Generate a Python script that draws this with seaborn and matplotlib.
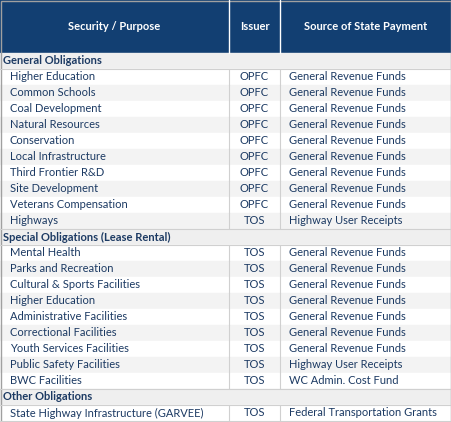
import matplotlib
matplotlib.use("Agg")
import matplotlib.pyplot as plt
import seaborn as sns
from matplotlib.patches import Rectangle

sns.set_style("white")
plt.rcParams['font.family'] = ['Lato', 'DejaVu Sans']

headers = ["Security / Purpose", "Issuer", "Source of State Payment"]
sections = ["General Obligations", "Special Obligations (Lease Rental)", "Other Obligations"]
purposes = [
    ["Higher Education", "Common Schools", "Coal Development", "Natural Resources", "Conservation",
     "Local Infrastructure", "Third Frontier R&D", "Site Development", "Veterans Compensation", "Highways"],
    ["Mental Health", "Parks and Recreation", "Cultural & Sports Facilities", "Higher Education",
     "Administrative Facilities", "Correctional Facilities", "Youth Services Facilities",
     "Public Safety Facilities", "BWC Facilities"],
    ["State Highway Infrastructure (GARVEE)"],
]
issuers = [
    ["OPFC"] * 9 + ["TOS"],
    ["TOS"] * 9,
    ["TOS"],
]
sources = [
    ["General Revenue Funds"] * 9 + ["Highway User Receipts"],
    ["General Revenue Funds"] * 7 + ["Highway User Receipts", "WC Admin. Cost Fund"],
    ["Federal Transportation Grants"],
]

W, H = 452, 422
fig = plt.figure(figsize=(W / 100, H / 100), dpi=100)
ax = fig.add_axes([0, 0, 1, 1])
ax.set_xlim(0, W)
ax.set_ylim(H, 0)
ax.axis("off")

navy = "#123f72"
txt = "#1c3a63"
grid = "#d0d0d0"
col_x = [0, 229, 280, W]
hdr_h = 53
row_h = 16

ax.add_patch(Rectangle((0, 0), W, hdr_h, color=navy))
for cx in col_x[1:-1]:
    ax.plot([cx, cx], [0, hdr_h], color="white", lw=1)
for i, h in enumerate(headers):
    ax.text((col_x[i] + col_x[i + 1]) / 2, 27, h, color="white", fontsize=8,
            fontweight="bold", ha="center", va="center")

y = hdr_h
for s, sec in enumerate(sections):
    ax.add_patch(Rectangle((0, y), W, row_h, color="#efefef"))
    ax.text(3, y + row_h / 2, sec, color=txt, fontsize=8, fontweight="bold", va="center")
    ax.plot([0, W], [y + row_h, y + row_h], color=grid, lw=0.8)
    y += row_h
    for r, (p, iss, src) in enumerate(zip(purposes[s], issuers[s], sources[s])):
        fc = "white" if r % 2 == 0 else "#f3f3f3"
        ax.add_patch(Rectangle((0, y), W, row_h, color=fc))
        ax.text(10, y + row_h / 2, p, color=txt, fontsize=8, va="center")
        ax.text((col_x[1] + col_x[2]) / 2, y + row_h / 2, iss, color=txt, fontsize=8,
                ha="center", va="center")
        ax.text(col_x[2] + 9, y + row_h / 2, src, color=txt, fontsize=8, va="center")
        for cx in col_x[1:-1]:
            ax.plot([cx, cx], [y, y + row_h], color=grid, lw=0.8)
        y += row_h
    ax.plot([0, W], [y, y], color=grid, lw=0.8)

ax.add_patch(Rectangle((0.5, 0.5), W - 1, H - 1, fill=False, ec="#a0a0a0", lw=1))
fig.savefig("out.png", dpi=100)
